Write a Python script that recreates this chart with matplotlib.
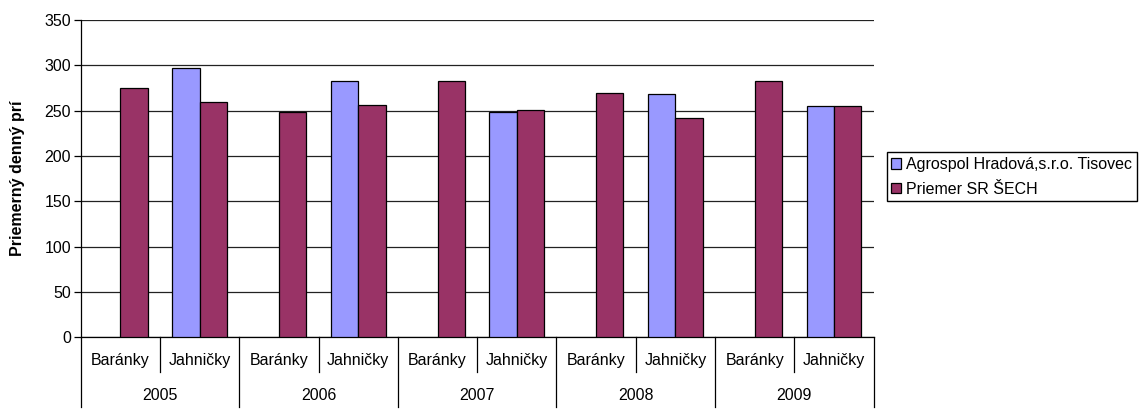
import matplotlib.pyplot as plt
import numpy as np

plt.rcParams['font.family'] = ['Liberation Sans', 'DejaVu Sans']

years = ['2005', '2006', '2007', '2008', '2009']
groups = ['Baránky', 'Jahničky']
agrospol = [np.nan, 297, np.nan, 283, np.nan, 248, np.nan, 268, np.nan, 255]
priemer = [275, 260, 248, 256, 283, 251, 269, 242, 283, 255]
series_names = ['Agrospol Hradová,s.r.o. Tisovec', 'Priemer SR ŠECH']
colors = ['#9999FF', '#993366']

fig = plt.figure(figsize=(11.41, 4.15), dpi=100)
ax = fig.add_axes([0.0707, 0.187, 0.695, 0.765])
fs = 11.5

x = np.arange(len(priemer))
w = 0.345
ax.bar(x - w / 2, agrospol, w, color=colors[0], edgecolor='black', linewidth=0.9,
       label=series_names[0], zorder=3)
ax.bar(x + w / 2, priemer, w, color=colors[1], edgecolor='black', linewidth=0.9,
       label=series_names[1], zorder=3)

ax.set_xlim(-0.5, len(x) - 0.5)
ax.set_ylim(0, 350)
ax.set_yticks(np.arange(0, 351, 50))
ax.yaxis.grid(True, color='#222222', linewidth=0.9)
ax.set_axisbelow(True)
for s in ['top', 'right']:
    ax.spines[s].set_visible(False)
ax.spines['left'].set_linewidth(0.9)
ax.spines['bottom'].set_linewidth(0.9)
ax.tick_params(axis='y', length=5, width=0.9, pad=2, labelsize=fs)
ax.set_xticks([])
ax.set_ylabel('Priemerný denný prí', fontsize=fs, fontweight='bold', labelpad=14)

# two-level category axis
tr = ax.get_xaxis_transform()
for i in range(len(x)):
    ax.text(i, -0.074, groups[i % 2], transform=tr, ha='center', va='center', fontsize=fs)
for i in range(len(x) + 1):
    low = -0.219 if i % 2 == 0 else -0.109
    ax.plot([i - 0.5, i - 0.5], [0, low], transform=tr, color='black',
            linewidth=0.9, clip_on=False)
for j, y in enumerate(years):
    ax.text(2 * j + 0.5, -0.182, y, transform=tr, ha='center', va='center', fontsize=fs)

ax.legend(loc='upper left', bbox_to_anchor=(0.777, 0.633), bbox_transform=fig.transFigure,
          borderaxespad=0, fancybox=False, edgecolor='black', framealpha=1,
          handlelength=0.6, handleheight=0.6, handletextpad=0.3, fontsize=fs,
          borderpad=0.3, labelspacing=0.6)

fig.savefig('out.png', dpi=100)
